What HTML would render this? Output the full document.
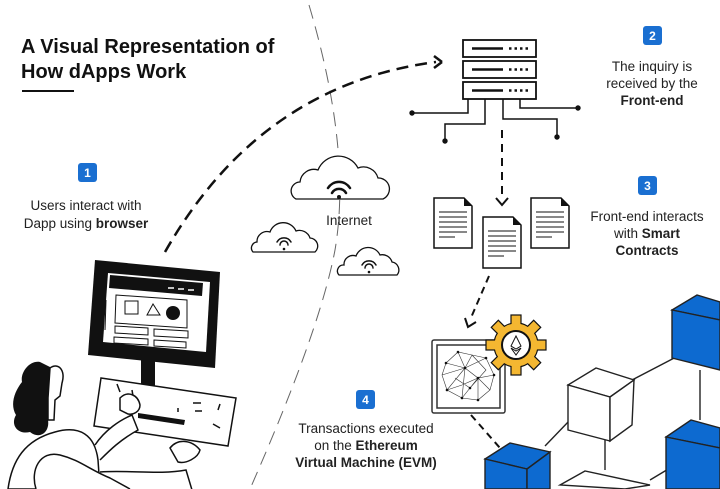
<!DOCTYPE html>
<html><head><meta charset="utf-8"><style>
html,body{margin:0;padding:0;background:#fff;}
svg{display:block;font-family:"Liberation Sans",sans-serif;}
.t{font-size:13.5px;fill:#222;text-anchor:middle;}
.b{font-weight:bold;}
</style></head><body>
<svg width="720" height="489" viewBox="0 0 720 489" xmlns="http://www.w3.org/2000/svg">
<rect width="720" height="489" fill="#fff"/>
<text x="21" y="53" font-size="20" font-weight="bold" fill="#111">A Visual Representation of</text>
<text x="21" y="78" font-size="20" font-weight="bold" fill="#111">How dApps Work</text>
<line x1="22" y1="91" x2="74" y2="91" stroke="#111" stroke-width="2"/>

<path d="M309,5 Q352,150 335,250 Q320,330 250,489" fill="none" stroke="#666" stroke-width="1" stroke-dasharray="14,8"/>

<path d="M165,252 Q260,85 436,62" fill="none" stroke="#111" stroke-width="2.5" stroke-dasharray="12,7"/>
<path d="M442,62 l-8,-6 M442,62 l-8,6" stroke="#111" stroke-width="2.5" fill="none"/>

<g font-size="12" font-weight="bold" fill="#fff" text-anchor="middle">
<rect x="78" y="163" width="19" height="19" rx="3" fill="#1a6fd1"/><text x="87.5" y="177">1</text>
<rect x="643" y="26" width="19" height="19" rx="3" fill="#1a6fd1"/><text x="652.5" y="40">2</text>
<rect x="638" y="176" width="19" height="19" rx="3" fill="#1a6fd1"/><text x="647.5" y="190">3</text>
<rect x="356" y="390" width="19" height="19" rx="3" fill="#1a6fd1"/><text x="365.5" y="404">4</text>
</g>

<text class="t" x="86" y="210">Users interact with</text>
<text class="t" x="86" y="228">Dapp using <tspan class="b">browser</tspan></text>
<text class="t" x="652" y="71">The inquiry is</text>
<text class="t" x="652" y="88">received by the</text>
<text class="t b" x="652" y="105">Front-end</text>
<text class="t" x="647" y="221">Front-end interacts</text>
<text class="t" x="647" y="238">with <tspan class="b">Smart</tspan></text>
<text class="t b" x="647" y="255">Contracts</text>
<text class="t" x="349" y="225">Internet</text>
<text class="t" x="366" y="433">Transactions executed</text>
<text class="t" x="366" y="450">on the <tspan class="b">Ethereum</tspan></text>
<text class="t b" x="366" y="467">Virtual Machine (EVM)</text>

<g stroke="#111" stroke-width="1.8" fill="#fff">
<rect x="463" y="40" width="73" height="17"/>
<rect x="463" y="61" width="73" height="17"/>
<rect x="463" y="82" width="73" height="17"/>
</g>
<g stroke="#111" stroke-width="2.5">
<line x1="472" y1="48.5" x2="503" y2="48.5"/><line x1="472" y1="69.5" x2="503" y2="69.5"/><line x1="472" y1="90.5" x2="503" y2="90.5"/>
</g>
<g stroke="#111" stroke-width="2.5" stroke-dasharray="2.5,3">
<line x1="509" y1="48.5" x2="528" y2="48.5"/><line x1="509" y1="69.5" x2="528" y2="69.5"/><line x1="509" y1="90.5" x2="528" y2="90.5"/>
</g>
<g stroke="#111" stroke-width="1.5" fill="none">
<path d="M468,99 V113 H412"/><path d="M485,99 V124 H445 V140"/><path d="M503,99 V119 H557 V137"/><path d="M520,99 V108 H578"/>
</g>
<g fill="#111"><circle cx="412" cy="113" r="2.7"/><circle cx="445" cy="141" r="2.7"/><circle cx="557" cy="137" r="2.7"/><circle cx="578" cy="108" r="2.7"/></g>
<line x1="502" y1="130" x2="502" y2="198" stroke="#111" stroke-width="2" stroke-dasharray="8,6"/>
<path d="M496,198 l6,7 l6,-7" stroke="#111" stroke-width="2" fill="none"/>

<g stroke="#111" stroke-width="1.5" fill="#fff">
<path d="M434,198 H464 L472,206 V248 H434 Z"/>
<path d="M483,217 H513 L521,225 V268 H483 Z"/>
<path d="M531,198 H561 L569,206 V248 H531 Z"/>
</g>
<g fill="#111"><path d="M464,198 L472,206 H464Z"/><path d="M513,217 L521,225 H513Z"/><path d="M561,198 L569,206 H561Z"/></g>
<g stroke="#111" stroke-width="1">
<path d="M439,212 H467 M439,217 H467 M439,222 H467 M439,227 H467 M439,232 H467 M439,237 H455"/>
<path d="M488,231 H516 M488,236 H516 M488,241 H516 M488,246 H516 M488,251 H516 M488,256 H504"/>
<path d="M536,212 H564 M536,217 H564 M536,222 H564 M536,227 H564 M536,232 H564 M536,237 H552"/>
</g>

<g stroke="#111" stroke-width="1.3" fill="#fff">
<path d="M296,199 H383 A11,11 0 0 0 378,178 A15,15 0 0 0 358,168 A22,22 0 0 0 318,170 A14,14 0 0 0 300,182 A9,9 0 0 0 296,199 Z"/>
<path d="M253,252 H315 A8,8 0 0 0 310,238 A11,11 0 0 0 296,231 A14,14 0 0 0 270,232 A10,10 0 0 0 257,242 A6,6 0 0 0 253,252 Z"/>
<path d="M339,275 H397 A8,8 0 0 0 392,262 A10,10 0 0 0 380,255 A13,13 0 0 0 356,256 A9,9 0 0 0 344,265 A6,6 0 0 0 339,275 Z"/>
</g>
<g stroke="#111" fill="none" stroke-linecap="round">
<path d="M328,188 A13,13 0 0 1 350,188" stroke-width="2.5"/><path d="M332,193 A8,8 0 0 1 346,193" stroke-width="2.5"/>
<path d="M277,242 A8,8 0 0 1 291,242" stroke-width="1.5"/><path d="M280,245 A4,4 0 0 1 288,245" stroke-width="1.5"/>
<path d="M362,265 A8,8 0 0 1 376,265" stroke-width="1.5"/><path d="M365,268 A4,4 0 0 1 373,268" stroke-width="1.5"/>
</g>
<g fill="#111"><circle cx="339" cy="197" r="2"/><circle cx="284" cy="249" r="1.3"/><circle cx="369" cy="272" r="1.3"/></g>

<polygon points="95,260 220,272 215,368 88,355" fill="#111"/>
<polygon points="108,273 210,282 206,352 103,342" fill="#fff"/>
<polygon points="110,275 203,283 202,296 109,288" fill="#111"/>
<g stroke="#fff" stroke-width="1.5"><line x1="168" y1="288" x2="174" y2="288"/><line x1="178" y1="289" x2="184" y2="289"/><line x1="188" y1="290" x2="194" y2="290"/></g>
<g stroke="#111" stroke-width="1" fill="none">
<polygon points="116,295 187,300 187,328 115,323"/>
<rect x="125" y="301" width="13" height="13"/>
<polygon points="147,315 153,304 160,315"/>
<polygon points="115,326 148,328 148,335 115,333"/><polygon points="154,329 188,331 188,338 154,336"/>
<polygon points="114,337 148,339 148,345 114,343"/><polygon points="154,340 186,342 186,348 154,346"/>
<line x1="106" y1="300" x2="105" y2="330"/>
</g>
<circle cx="173" cy="313" r="7" fill="#111"/>
<rect x="141" y="360" width="14" height="26" fill="#111"/>
<polygon points="101,378 236,398 228,446 94,426" fill="#fff" stroke="#111" stroke-width="1.5"/>
<polygon points="138,413 185,420 184,425 138,418" fill="#111"/>
<g stroke="#111" stroke-width="1.5"><path d="M117,384 l3,8 M132,390 l1,6 M193,403 h8 M195,411 h7 M178,408 l0,4 M220,404 l-2,6 M213,424 l7,4"/></g>
<path d="M40,362 C30,360 20,372 22,382 C14,392 10,405 16,415 C10,425 18,435 30,432 C40,440 50,432 48,420 L52,400 C56,388 60,375 52,368 Z" fill="#111"/>
<path d="M50,368 C58,362 66,370 62,383 L60,396 L55,400 L54,420 L48,420 L48,398 Z" fill="#fff" stroke="#111" stroke-width="1.5"/>
<g stroke="#111" stroke-width="1.5" fill="#fff">
<path d="M8,489 C12,460 25,440 55,432 C80,425 95,435 98,460 L100,489 Z"/>
<path d="M36,489 C30,470 40,450 60,455 C80,460 90,470 110,478 L130,489"/>
<path d="M95,445 C105,430 120,420 132,415 L138,430 C120,440 110,450 100,460"/>
<path d="M120,398 C128,390 138,395 140,405 C140,412 133,415 128,414 L120,410 Z"/>
<path d="M100,472 C130,470 160,475 186,470 L192,490"/>
<path d="M170,448 C178,438 192,440 200,450 C198,458 186,464 178,462 Z"/>
</g>

<line x1="489" y1="276" x2="470" y2="320" stroke="#111" stroke-width="2" stroke-dasharray="7,5"/>
<path d="M465,318 l3,9 l8,-5" stroke="#111" stroke-width="2" fill="none"/>
<line x1="471" y1="415" x2="500" y2="448" stroke="#111" stroke-width="2" stroke-dasharray="7,5"/>

<rect x="432" y="340" width="73" height="73" rx="2" fill="#fff" stroke="#333" stroke-width="1.5"/>
<rect x="437" y="345" width="63" height="63" fill="#fff" stroke="#333" stroke-width="1.5"/>
<g stroke="#333" stroke-width="0.6" fill="none">
<path d="M446,363 L458,352 L472,355 L486,358 L494,375 L490,390 L478,400 L462,398 L447,390 L442,375 Z M458,352 L465,368 L472,355 M465,368 L486,358 M465,368 L447,390 M465,368 L478,378 L494,375 M478,378 L490,390 M478,378 L478,400 M465,368 L462,398 M442,375 L465,368 M446,363 L465,368 M462,398 L478,378 M447,390 L462,385 L478,378 M455,378 L470,388 L486,370 L472,355"/>
</g>
<g fill="#111"><circle cx="458" cy="352" r="1.3"/><circle cx="486" cy="358" r="1.3"/><circle cx="465" cy="368" r="1.3"/><circle cx="478" cy="378" r="1.3"/><circle cx="447" cy="390" r="1.3"/><circle cx="478" cy="400" r="1.3"/><circle cx="494" cy="375" r="1.3"/><circle cx="446" cy="363" r="1.3"/><circle cx="462" cy="398" r="1.3"/><circle cx="470" cy="388" r="1.3"/></g>
<g transform="translate(516,345)">
<circle r="22" fill="#f4b731" stroke="#111" stroke-width="1.2"/>
<g fill="#f4b731" stroke="#111" stroke-width="1.2">
<rect x="-5" y="-30" width="10" height="10"/><rect x="-5" y="20" width="10" height="10"/><rect x="-30" y="-5" width="10" height="10"/><rect x="20" y="-5" width="10" height="10"/>
<rect x="-5" y="-30" width="10" height="10" transform="rotate(45)"/><rect x="-5" y="20" width="10" height="10" transform="rotate(45)"/><rect x="-30" y="-5" width="10" height="10" transform="rotate(45)"/><rect x="20" y="-5" width="10" height="10" transform="rotate(45)"/>
</g>
<circle r="21.5" fill="#f4b731"/>
<circle r="14" fill="#fff" stroke="#111" stroke-width="2"/>
<path d="M0,-9 L-5,1 L0,4 L5,1 Z M-5,3 L0,10 L5,3 L0,6 Z" fill="none" stroke="#111" stroke-width="1"/>
</g>

<g stroke="#222" stroke-width="1.4">
<line x1="632" y1="380" x2="680" y2="355"/>
<line x1="700" y1="370" x2="700" y2="420"/>
<line x1="570" y1="420" x2="545" y2="446"/>
<line x1="605" y1="440" x2="605" y2="470"/>
<line x1="650" y1="480" x2="670" y2="468"/>
</g>
<g stroke="#222" stroke-width="1.4" fill="#fff">
<polygon points="568,385 596,368 634,380 610,397"/>
<polygon points="568,385 610,397 610,441 568,430"/>
<polygon points="610,397 634,380 632,425 610,441"/>
</g>
<g stroke="#222" stroke-width="1.4" fill="#0d6ad0">
<polygon points="672,310 697,295 720,302 720,320"/>
<polygon points="672,310 720,320 720,370 672,358"/>
</g>
<g stroke="#222" stroke-width="1.4" fill="#0d6ad0">
<polygon points="666,437 691,420 720,428 720,448"/>
<polygon points="666,437 720,448 720,489 666,489"/>
</g>
<g stroke="#222" stroke-width="1.4" fill="#0d6ad0">
<polygon points="485,459 510,443 550,452 527,469"/>
<polygon points="485,459 527,469 527,489 485,489"/>
<polygon points="527,469 550,452 550,489 527,489"/>
</g>
<g stroke="#222" stroke-width="1.4" fill="#fff">
<polygon points="560,485 585,471 650,485 625,489"/>
</g>
</svg>
</body></html>
